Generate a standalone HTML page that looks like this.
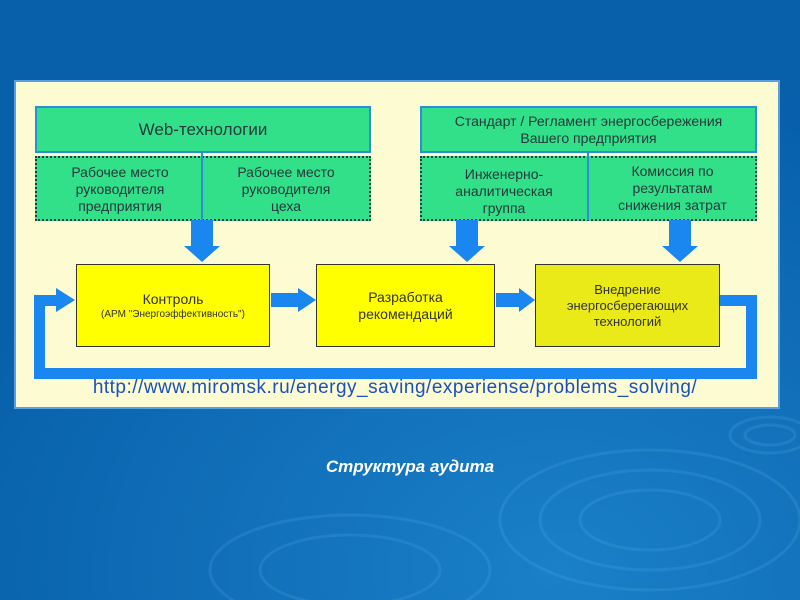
<!DOCTYPE html>
<html><head><meta charset="utf-8"><style>
body{margin:0;width:800px;height:600px;overflow:hidden;background:#0a62ad;font-family:"Liberation Sans",sans-serif;position:relative}
.a{position:absolute;box-sizing:border-box}
.g{background:#33e08a;border:2px solid #2a8fd8;color:#243a3a;text-align:center}
.d{background:#33e08a;border:2px dotted #334;color:#243a3a;text-align:center;font-size:14px;line-height:17px}
.y{background:#ffff00;border:1.5px solid #333;color:#333;text-align:center;display:flex;flex-direction:column;justify-content:center}
.t{position:absolute;text-align:center;white-space:nowrap}
</style></head><body>
<svg class="a" style="left:0;top:0" width="800" height="600">
<defs><radialGradient id="bg" cx="0.7" cy="0.95" r="0.8"><stop offset="0" stop-color="#1a80c8"/><stop offset="1" stop-color="#0860aa"/></radialGradient></defs>
<rect width="800" height="600" fill="url(#bg)"/>
<g fill="none" stroke="#5ab0e8" stroke-opacity="0.2" stroke-width="3">
<ellipse cx="650" cy="520" rx="70" ry="30"/><ellipse cx="650" cy="520" rx="110" ry="50"/><ellipse cx="650" cy="520" rx="150" ry="70"/>
<ellipse cx="770" cy="435" rx="25" ry="10"/><ellipse cx="770" cy="435" rx="40" ry="18"/>
<ellipse cx="350" cy="570" rx="90" ry="35"/><ellipse cx="350" cy="570" rx="140" ry="55"/>
</g>
</svg>
<div class="a" style="left:14px;top:80px;width:766px;height:329px;background:#fdfbd2;border:2px solid #5aa0e0"></div>
<div class="a g" style="left:35px;top:106px;width:336px;height:47px;font-size:17px;line-height:43px">Web-технологии</div>
<div class="a d" style="left:35px;top:156px;width:336px;height:65px"></div>
<div class="a" style="left:201px;top:152px;width:2px;height:68px;background:#2a8fd8"></div>
<div class="t" style="left:40px;top:164px;width:160px;font-size:14px;line-height:17px;color:#243a3a">Рабочее место<br>руководителя<br>предприятия</div>
<div class="t" style="left:205px;top:164px;width:162px;font-size:14px;line-height:17px;color:#243a3a">Рабочее место<br>руководителя<br>цеха</div>
<div class="a g" style="left:420px;top:106px;width:337px;height:47px;font-size:14px;line-height:17px;padding-top:5px">Стандарт / Регламент энергосбережения<br>Вашего предприятия</div>
<div class="a d" style="left:420px;top:156px;width:337px;height:65px"></div>
<div class="a" style="left:587px;top:152px;width:2px;height:68px;background:#2a8fd8"></div>
<div class="t" style="left:422px;top:166px;width:164px;font-size:14px;line-height:17px;color:#243a3a">Инженерно-<br>аналитическая<br>группа</div>
<div class="t" style="left:590px;top:163px;width:165px;font-size:14px;line-height:17px;color:#243a3a">Комиссия по<br>результатам<br>снижения затрат</div>
<svg class="a" style="left:0;top:0" width="800" height="600">
<g fill="#1a86f0">
<polygon points="191,220 213,220 213,246 220,246 202,262 184,246 191,246"/>
<polygon points="456,220 478,220 478,246 485,246 467,262 449,246 456,246"/>
<polygon points="669,220 691,220 691,246 698,246 680,262 662,246 669,246"/>
<polygon points="271,293 298,293 298,288 316,300 298,312 298,307 271,307"/>
<polygon points="496,293 519,293 519,288 535,300 519,312 519,307 496,307"/>
<polygon points="719,295 757,295 757,379 34,379 34,295 56,295 56,288 75,300 56,312 56,306 45,306 45,368 746,368 746,306 719,306"/>
</g>
</svg>
<div class="a y" style="left:76px;top:264px;width:194px;height:83px"><div style="font-size:14px">Контроль</div><div style="font-size:10px;margin-top:2px">(АРМ "Энергоэффективность")</div></div>
<div class="a y" style="left:316px;top:264px;width:179px;height:83px;font-size:14px;line-height:17px">Разработка<br>рекомендаций</div>
<div class="a y" style="left:535px;top:264px;width:185px;height:83px;font-size:13px;line-height:16px;background:#eaea18">Внедрение<br>энергосберегающих<br>технологий</div>
<div class="t" style="left:60px;top:377px;width:670px;font-size:19px;letter-spacing:0.5px;color:#1a50c0">http://www.miromsk.ru/energy_saving/experiense/problems_solving/</div>
<div class="t" style="left:260px;top:457px;width:300px;font-size:17px;font-weight:bold;font-style:italic;color:#fff">Структура аудита</div>
</body></html>
